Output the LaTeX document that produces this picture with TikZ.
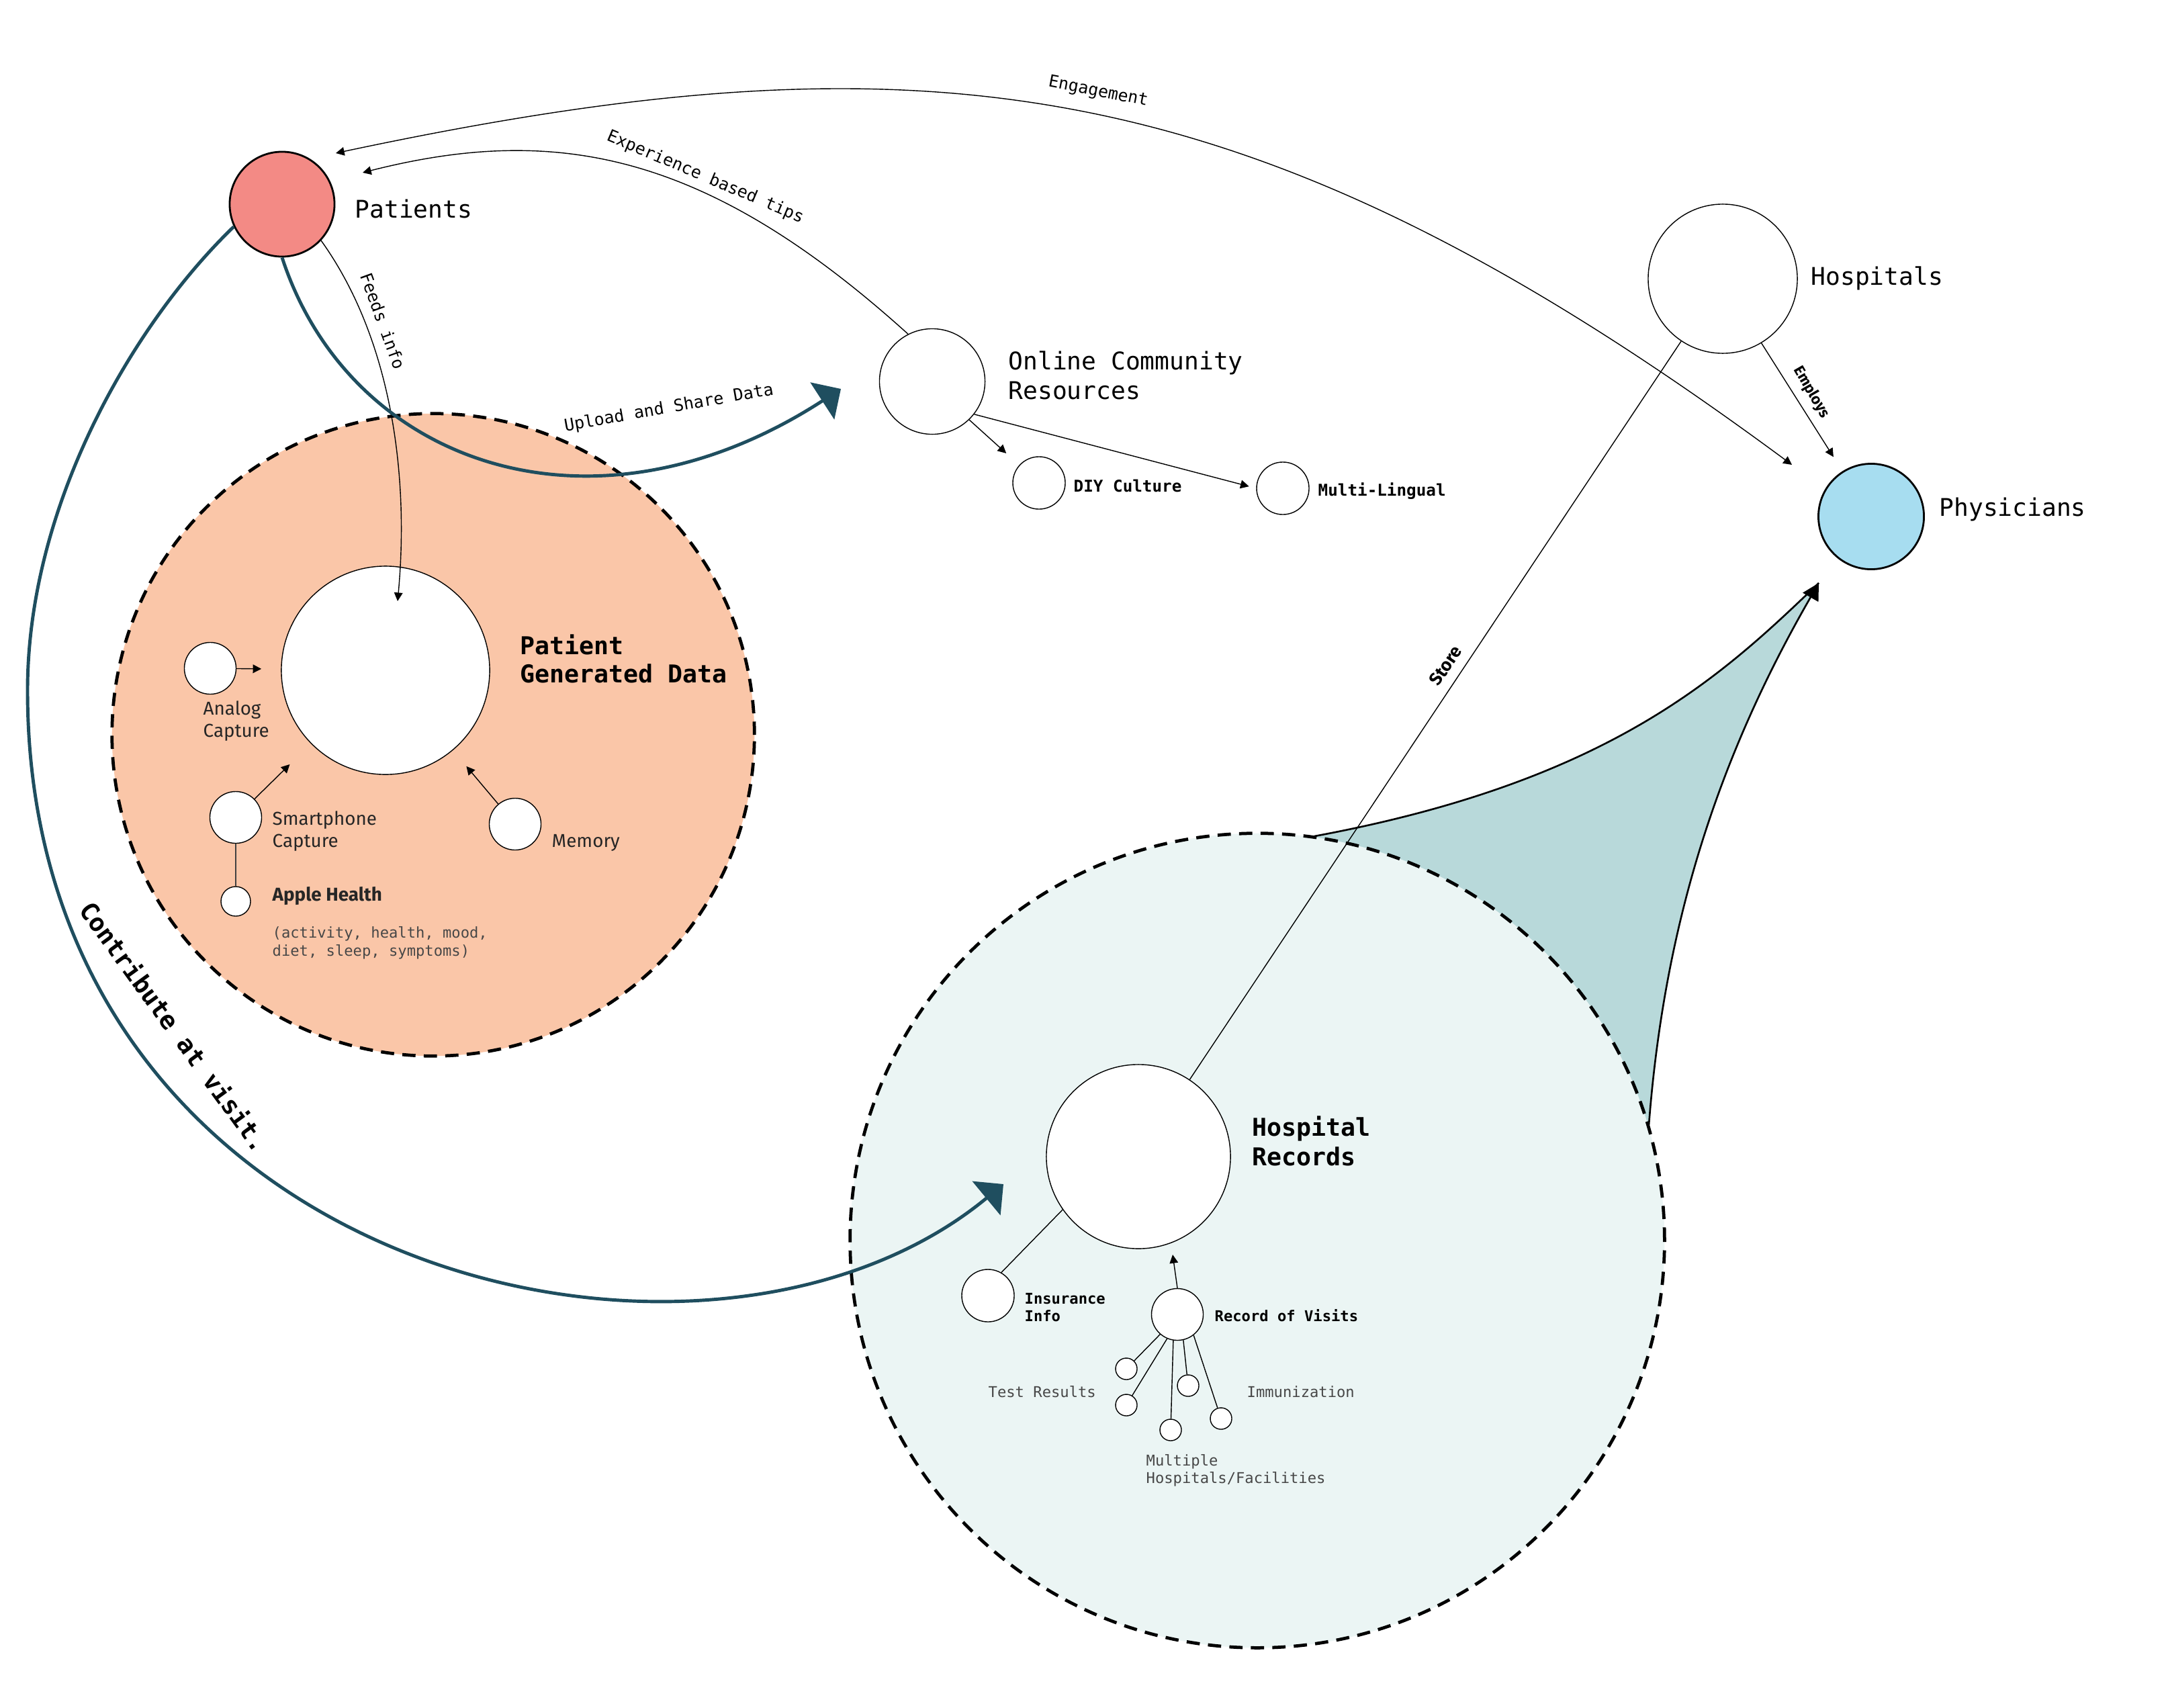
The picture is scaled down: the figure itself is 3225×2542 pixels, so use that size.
\documentclass[tikz,border=0pt]{standalone}
\usepackage{fontspec}
\usetikzlibrary{arrows.meta}
\newfontfamily\monof{DejaVu Sans Mono}
\newfontfamily\sansf{Fira Sans}
\definecolor{patpink}{HTML}{F38A85}
\definecolor{physblue}{HTML}{A7DDF0}
\definecolor{peach}{HTML}{FAC6A8}
\definecolor{hrlight}{HTML}{EBF5F4}
\definecolor{funnelc}{HTML}{B8D9DA}
\definecolor{tealdark}{HTML}{1F4E5F}
\definecolor{txtgray}{HTML}{474747}
\tikzset{
  bub/.style={circle, draw=black, line width=0.4pt, fill=white, inner sep=0pt},
  dashring/.style={circle, draw=black, line width=1.35pt, dash pattern=on 5.6pt off 3.5pt, inner sep=0pt},
  tarr/.style={line width=0.4pt, -{Triangle[length=3.6pt,width=3.6pt]}},
  bigarr/.style={draw=tealdark, line width=1.4pt, -{Triangle[length=9.4pt,width=18.5pt]}},
  biglbl/.style={anchor=base west, inner sep=0pt, font=\monof\fontsize{10.3}{12}\selectfont},
  boldlbl/.style={anchor=base west, inner sep=0pt, font=\monof\bfseries\fontsize{10.4}{12}\selectfont},
  midlbl/.style={anchor=base west, inner sep=0pt, font=\monof\bfseries\fontsize{6.9}{8}\selectfont},
  smlbl/.style={anchor=base west, inner sep=0pt, font=\monof\bfseries\fontsize{6.3}{7.5}\selectfont},
  graylbl/.style={anchor=base west, inner sep=0pt, text=txtgray, font=\monof\fontsize{6.3}{7.5}\selectfont},
  sanslbl/.style={anchor=base west, inner sep=0pt, text=black!85, font=\sansf\fontsize{7.9}{9}\selectfont},
  elbl/.style={inner sep=0pt, font=\monof\fontsize{7.1}{8}\selectfont},
}
\begin{document}
\begin{tikzpicture}[x=0.01cm,y=-0.01cm]
\useasboundingbox (0,0) rectangle (3225,2542);

% ---- zones ----
\node[dashring, fill=peach, minimum size=9.56cm] (pgd) at (645,1094) {};
\coordinate (fL) at (1957,1245);
\coordinate (fT) at (2708,868);
\coordinate (fB) at (2455,1675);
\fill[funnelc] (fL) .. controls (2399,1163) and (2564,1006) .. (fT)
   .. controls (2558,1128) and (2478,1376) .. (fB) -- cycle;
\node[dashring, fill=hrlight, minimum size=12.12cm] (hr) at (1872,1847) {};
\draw[line width=0.75pt] (fL) .. controls (2399,1163) and (2564,1006) .. (fT);
\draw[line width=0.75pt, -{Triangle[length=7pt,width=7.5pt]}] (fB) .. controls (2478,1376) and (2558,1128) .. (fT);

% ---- main nodes ----
\node[bub, minimum size=1.56cm, fill=patpink, line width=0.8pt] (pat) at (420,304) {};
\node[bub, minimum size=1.57cm] (onl) at (1388,568) {};
\node[bub, minimum size=0.78cm] (diy) at (1547,719) {};
\node[bub, minimum size=0.78cm] (mul) at (1910,727) {};
\node[bub, minimum size=2.22cm] (hosp) at (2565,415) {};
\node[bub, minimum size=1.57cm, fill=physblue, line width=0.8pt] (phys) at (2786,769) {};

% patient generated data
\node[bub, minimum size=3.1cm] (pgdc) at (574,998) {};
\node[bub, minimum size=0.77cm] (ana) at (313,995) {};
\node[bub, minimum size=0.77cm] (sma) at (351,1217) {};
\node[bub, minimum size=0.77cm] (mem) at (767,1227) {};
\node[bub, minimum size=0.44cm] (app) at (351,1342) {};

% hospital records
\node[bub, minimum size=2.74cm] (hrc) at (1695,1722) {};
\node[bub, minimum size=0.78cm] (ins) at (1471,1929) {};
\node[bub, minimum size=0.77cm] (rov) at (1753,1957) {};
\node[bub, minimum size=0.32cm] (ta) at (1677,2038) {};
\node[bub, minimum size=0.32cm] (tb) at (1677,2092) {};
\node[bub, minimum size=0.32cm] (tc) at (1743,2129) {};
\node[bub, minimum size=0.32cm] (td) at (1769,2063) {};
\node[bub, minimum size=0.32cm] (te) at (1818,2112) {};

% ---- labels ----
\node[biglbl] (patL) at (528,324) {Patients};
\node[biglbl] (onlL1) at (1501,550) {Online Community};
\node[biglbl] (onlL2) at (1501,594) {Resources};
\node[biglbl] (hospL) at (2696,424) {Hospitals};
\node[biglbl] (physL) at (2887,768) {Physicians};
\node[midlbl] (diyL) at (1598,732) {DIY Culture};
\node[midlbl] (mulL) at (1962,738) {Multi-Lingual};

\node[boldlbl] (pgdL1) at (774,974) {Patient};
\node[boldlbl] (pgdL2) at (774,1016) {Generated Data};
\node[sanslbl] (anaL1) at (302,1064) {Analog};
\node[sanslbl] (anaL2) at (302,1097) {Capture};
\node[sanslbl] (smaL1) at (405,1228) {Smartphone};
\node[sanslbl] (smaL2) at (405,1261) {Capture};
\node[sanslbl] (memL) at (821,1261) {Memory};
\node[sanslbl, font=\sansf\bfseries\fontsize{7.9}{9}\selectfont] (appL) at (405,1341) {Apple Health};
\node[graylbl] (actL1) at (405,1396) {(activity, health, mood,};
\node[graylbl] (actL2) at (405,1423) {diet, sleep, symptoms)};

\node[boldlbl] (hrL1) at (1864,1691) {Hospital};
\node[boldlbl] (hrL2) at (1864,1735) {Records};
\node[smlbl] (insL1) at (1525,1941) {Insurance};
\node[smlbl] (insL2) at (1525,1967) {Info};
\node[smlbl] (rovL) at (1808,1967) {Record of Visits};
\node[graylbl] (testL) at (1471,2080) {Test Results};
\node[graylbl] (immL) at (1856,2080) {Immunization};
\node[graylbl] (multL1) at (1706,2182) {Multiple};
\node[graylbl] (multL2) at (1706,2208) {Hospitals/Facilities};

% ---- inner connectors ----
\draw[tarr, shorten >=0.29cm] (ana) -- (pgdc);
\draw[tarr, shorten >=0.44cm] (sma) -- (pgdc);
\draw[tarr, shorten >=0.31cm] (mem) -- (pgdc);
\draw[line width=0.4pt, draw=black!75] (sma) -- (app);
\draw[line width=0.4pt] (ins.60) -- (hrc.215);
\coordinate (rovT) at (1746,1868);
\draw[tarr] (rov.north) -- (rovT);
\draw[line width=0.4pt] (rov.-131) -- (ta);
\draw[line width=0.4pt] (rov.-113) -- (tb);
\draw[line width=0.4pt] (rov.-99) -- (tc);
\draw[line width=0.4pt] (rov.-77) -- (td);
\draw[line width=0.4pt] (rov.-52) -- (te);

\draw[tarr, shorten >=0.26cm] (onl.-46) -- (diy);
\draw[tarr, shorten >=0.11cm] (onl.-38) -- (mul.west);
\draw[tarr, shorten >=0.25cm] (hosp.-59) -- (phys);
\draw[line width=0.4pt] (hosp) -- (hrc);

% ---- long connectors ----
\coordinate (engP) at (500,228);
\coordinate (engQ) at (2668,692);
\draw[line width=0.4pt, {Triangle[length=3.6pt,width=3.6pt]}-{Triangle[length=3.6pt,width=3.6pt]}]
  (engP) .. controls (1380,41) and (1864,98) .. (engQ);
\coordinate (expT) at (540,257);
\draw[tarr] (onl.117) .. controls (1055,229) and (831,183) .. (expT);
\coordinate (feedT) at (592,895);
\draw[tarr] (pat.-43) .. controls (580,500) and (610,700) .. (feedT);
\coordinate (upT) at (1252,579);
\draw[bigarr] (pat.south) .. controls (520,690) and (880,820) .. (upT);
\coordinate (conT) at (1494,1763);
\draw[bigarr] (pat.205) .. controls (200,480) and (41,750) .. (41,1028)
  .. controls (41,1900) and (1050,2130) .. (conT);

% ---- connector labels ----
\node[elbl, rotate=-11] (engL) at (1635,137) {Engagement};
\node[elbl, rotate=-23] (expL) at (1050,264) {Experience based tips};
\node[elbl, rotate=-70] (feedL) at (570,478) {Feeds info};
\node[elbl, rotate=10] (upL) at (996,608) {Upload and Share Data};
\node[inner sep=0pt, rotate=-54, font=\monof\bfseries\fontsize{10.6}{12}\selectfont] (conL) at (260,1528) {Contribute at visit.};
\node[inner sep=0pt, rotate=56, font=\sansf\bfseries\fontsize{7.5}{9}\selectfont] (stoL) at (2152,991) {Store};
\node[inner sep=0pt, rotate=-60, font=\sansf\bfseries\fontsize{6.3}{8}\selectfont] (empL) at (2697,584) {Employs};
\end{tikzpicture}
\end{document}
